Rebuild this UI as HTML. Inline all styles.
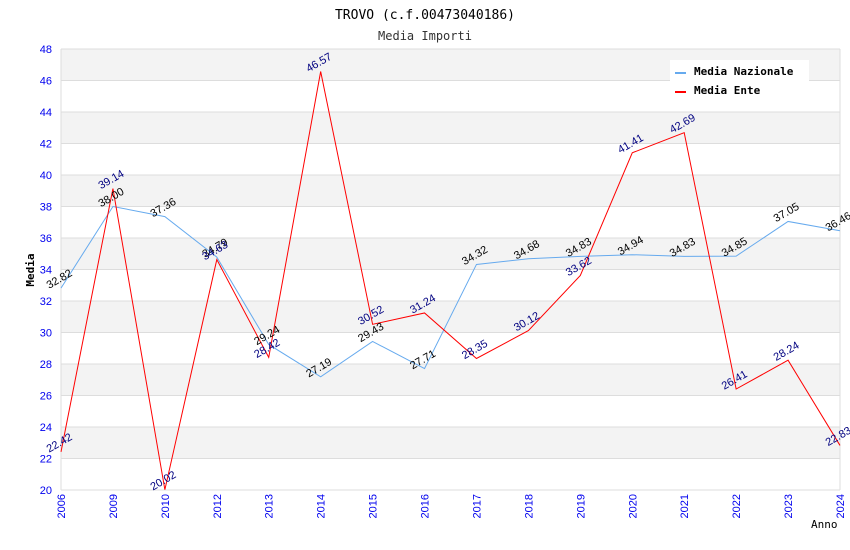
<!DOCTYPE html>
<html><head><meta charset="utf-8"><style>
html,body{margin:0;padding:0;background:#fff;width:850px;height:550px;overflow:hidden}
text{font-family:"Liberation Sans","DejaVu Sans",sans-serif}
.mono{font-family:"DejaVu Sans Mono","Liberation Mono",monospace}
</style></head><body>
<svg id="chart" width="850" height="550" xmlns="http://www.w3.org/2000/svg">
<text class="mono" x="425" y="19" text-anchor="middle" font-size="13" fill="#000">TROVO (c.f.00473040186)</text>
<text class="mono" x="425" y="40" text-anchor="middle" font-size="12" fill="#333">Media Importi</text>
<g id="bands"></g>
<g id="grid"></g>
<g id="axes"></g>
<g id="series"></g>
<g id="labels"></g>
<text class="mono" font-weight="bold" font-size="11" transform="translate(34,270) rotate(-90)" text-anchor="middle">Media</text>
<text class="mono" font-size="11" x="811" y="528">Anno</text>
<g>
<rect x="670" y="60" width="139" height="40" fill="#fff"/>
<line x1="675" y1="73" x2="686" y2="73" stroke="#66aaee" stroke-width="2"/>
<text class="mono" font-weight="bold" font-size="11" x="694" y="75">Media Nazionale</text>
<line x1="675" y1="92" x2="686" y2="92" stroke="#ff0000" stroke-width="2"/>
<text class="mono" font-weight="bold" font-size="11" x="694" y="94">Media Ente</text>
</g>
</svg>
<script>
const years=["2006","2009","2010","2012","2013","2014","2015","2016","2017","2018","2019","2020","2021","2022","2023","2024"];
const nazionale=[32.82,38.00,37.36,34.79,29.24,27.19,29.43,27.71,34.32,34.68,34.83,34.94,34.83,34.85,37.05,36.46];
const ente=[22.42,39.14,20.02,34.63,28.42,46.57,30.52,31.24,28.35,30.12,33.62,41.41,42.69,26.41,28.24,22.83];
const yTicks=[20,22,24,26,28,30,32,34,36,38,40,42,44,46,48];
const NS="http://www.w3.org/2000/svg";
const L=61,R=840,T=49,B=490,ymin=20,ymax=48;
const xs=i=>L+i*(R-L)/(years.length-1);
const ys=v=>B-(v-ymin)/(ymax-ymin)*(B-T);
function mk(p,tag,a){const e=document.createElementNS(NS,tag);for(const k in a)e.setAttribute(k,a[k]);document.getElementById(p).appendChild(e);return e;}
for(let i=0;i<yTicks.length-1;i++){
  if(i%2===1){const r=mk('bands','rect',{x:L,y:ys(yTicks[i+1]),width:R-L,height:ys(yTicks[i])-ys(yTicks[i+1]),fill:'#f3f3f3'});
  
  }
}
yTicks.forEach(v=>{
  const l=mk('grid','line',{x1:L,x2:R,y1:ys(v),y2:ys(v),stroke:'#dddddd'});
  
  
  const t=mk('axes','text',{x:L-9,y:ys(v)+4,'text-anchor':'end','font-size':11,fill:'#0000ee'});
  
  
  t.textContent=v;
});
mk('axes','line',{x1:L,x2:L,y1:T,y2:B,stroke:'#dddddd'});
mk('axes','line',{x1:R,x2:R,y1:T,y2:B,stroke:'#dddddd'});
years.forEach((y,i)=>{
  const t=mk('axes','text',{'font-size':11,fill:'#0000ee','text-anchor':'end',transform:`translate(${xs(i)+4},${B+4}) rotate(-90)`});
  
  
  t.textContent=y;
});
function series(vals,color,lc,name){
  const p=mk('series','polyline',{points:vals.map((v,i)=>xs(i)+','+ys(v)).join(' '),fill:'none',stroke:color,'stroke-width':1});
  
  
  vals.forEach((v,i)=>{
    const t=mk('labels','text',{'font-size':11,fill:lc,'text-anchor':'middle',transform:`translate(${xs(i)},${ys(v)-6}) rotate(-30)`});
    
    
    t.textContent=v.toFixed(2);
  });
}
series(nazionale,'#66aaee','#000','line-media-nazionale');
series(ente,'#ff0000','#000080','line-media-ente');
</script>
</body></html>
